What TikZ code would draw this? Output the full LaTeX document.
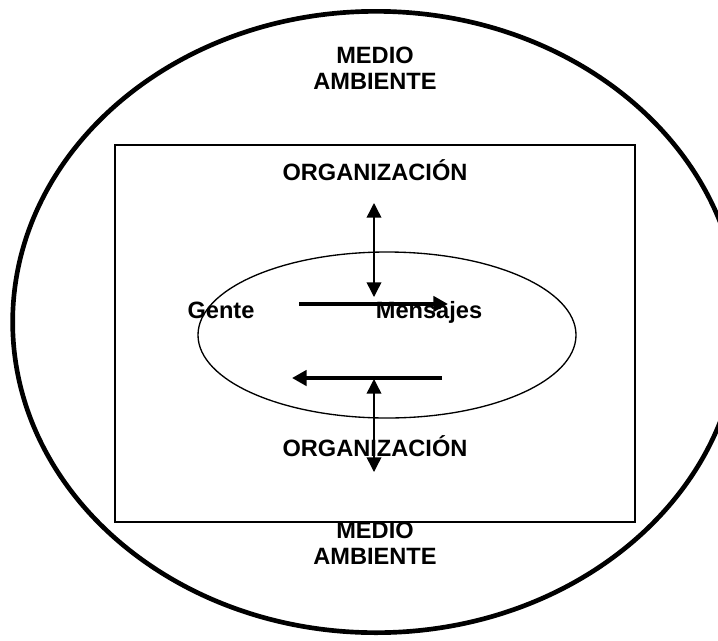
\documentclass[tikz,border=0pt]{standalone}
\usepackage{fontspec}
\setmainfont{Liberation Sans}
\usetikzlibrary{positioning,shapes,arrows.meta}

\begin{document}
\begin{tikzpicture}[
    x=0.75pt, y=-0.75pt,
    label/.style={font=\bfseries\fontsize{17.7}{19.5}\selectfont, align=center, inner sep=0pt},
    entorno/.style={draw, ellipse, line width=3.5pt, minimum width=545pt, minimum height=466pt},
    caja/.style={draw, rectangle, line width=1.1pt, minimum width=390pt, minimum height=282.75pt},
    grupo/.style={draw, ellipse, line width=1pt, minimum width=283.5pt, minimum height=124.5pt},
    link/.style={{Triangle[length=11pt,width=11pt]}-{Triangle[length=11pt,width=11pt]}, line width=1.1pt},
    flow/.style={-{Triangle[length=11pt,width=11.5pt]}, line width=3pt}
]
\useasboundingbox (0,0) rectangle (718,640);

% Shapes
\node[entorno] (medio) at (376,322) {};
\node[caja] (org_box) at (375,333.5) {};
\node[grupo] (gente_ellipse) at (387,335) {};

% Labels
\node[label] (medio_top) at (375,68) {MEDIO\\AMBIENTE};
\node[label, anchor=base] (org_top) at (375,180) {ORGANIZACIÓN};
\node[label, anchor=base] (gente) at (221,318) {Gente};
\node[label, anchor=base] (mensajes) at (429,318) {Mensajes};
\node[label, anchor=base] (org_bottom) at (375,456) {ORGANIZACIÓN};
\node[label] (medio_bottom) at (375,543.5) {MEDIO\\AMBIENTE};

% Arrow ends
\coordinate (up_a) at (374,203);
\coordinate (up_b) at (374,297);
\coordinate (down_a) at (374,379);
\coordinate (down_b) at (374,472);
\coordinate (send_a) at (299,304);
\coordinate (send_b) at (448,304);
\coordinate (back_a) at (442,378);
\coordinate (back_b) at (292,378);

% Connections
\draw[link] (up_a) -- (up_b);
\draw[link] (down_a) -- (down_b);
\draw[flow] (send_a) -- (send_b);
\draw[flow] (back_a) -- (back_b);

\end{tikzpicture}
\end{document}
